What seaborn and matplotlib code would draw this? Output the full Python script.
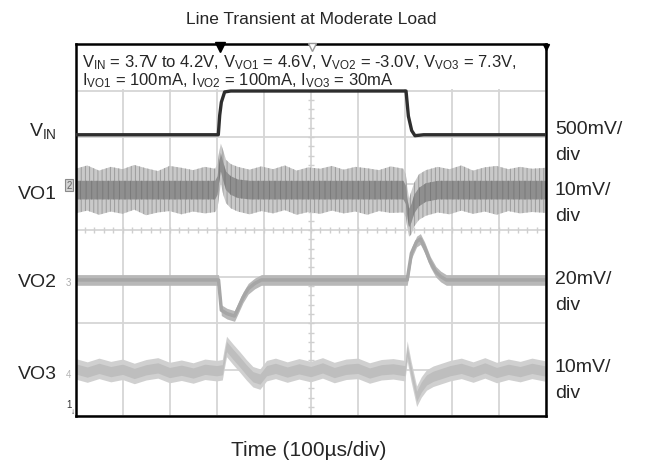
import numpy as np
import seaborn as sns
import matplotlib
matplotlib.use("Agg")
from matplotlib import pyplot as plt
from matplotlib.patches import Rectangle

# ---- scope data (time in us, 100us/div) ----
# VIN in volts, 500mV/div
vin_t = [0, 303.5, 306.5, 310, 317, 330, 702.5, 707.5, 714.5, 721.5, 740, 1000]
vin_v = [3.70, 3.70, 3.91, 4.05, 4.16, 4.17, 4.17, 3.90, 3.745, 3.69, 3.70, 3.70]

# VO1 deviation in mV, 10mV/div (centre and noise envelope)
vo1_t = [0, 25, 50, 75, 100, 125, 150, 175, 200, 225, 250, 275, 297,
         302, 305, 309, 314, 320, 330, 345,
         370, 395, 420, 445, 470, 495, 520, 545, 570, 595, 620, 645, 670, 697,
         702, 705, 709, 714, 720, 730, 745,
         770, 795, 820, 845, 870, 895, 920, 945, 970, 1000]
vo1_mid = [0] * 13 + [1.0, 3.5, 6.0, 4.0, 2.0, 1.0, 0.3] + [0] * 14 + \
          [-1.0, -3.5, -6.0, -5.0, -3.0, -1.5, -0.5] + [0] * 10
vo1_hi = [4.6, 5.3, 4.2, 5.0, 4.5, 5.4, 4.7, 4.1, 5.2, 4.8, 4.3, 5.0, 4.6,
          5.8, 8.0, 10.0, 8.5, 6.5, 5.6, 5.0,
          4.4, 5.1, 4.5, 5.3, 4.2, 4.9, 4.6, 5.2, 4.4, 5.0, 4.7, 4.3, 5.1, 4.6,
          3.4, 0.8, -1.8, -0.2, 1.6, 3.4, 4.3,
          5.0, 4.5, 5.3, 4.2, 4.9, 5.2, 4.5, 5.0, 4.6, 4.8]
vo1_lo = [-5.0, -4.4, -5.3, -4.6, -5.1, -4.2, -5.4, -4.8, -4.5, -5.2, -4.6, -5.0, -4.7,
          -3.8, -1.5, 1.5, -1.0, -2.8, -3.9, -4.6,
          -5.2, -4.5, -5.0, -4.3, -5.3, -4.7, -5.1, -4.4, -5.0, -4.6, -5.3, -4.5, -4.9, -4.8,
          -5.8, -8.0, -10.0, -9.5, -7.8, -6.4, -5.5,
          -4.8, -5.2, -4.4, -5.1, -4.6, -5.3, -4.5, -5.0, -4.7, -4.9]

# VO2 deviation in mV, 20mV/div
vo2_t = [0, 100, 200, 300, 304, 310, 322, 338, 346, 356, 367, 381, 395,
         500, 600, 700, 705, 714, 725, 733, 742, 754, 766, 776, 788, 900, 1000]
vo2_mid = [0, 0, 0, 0, 0, -13.0, -14.5, -15.5, -12.0, -7.5, -3.8, -1.5, 0,
           0, 0, 0, 0, 11.5, 16.5, 17.6, 14.0, 7.8, 3.5, 1.5, 0, 0, 0]

# VO3 deviation in mV, 10mV/div
vo3_t = [0, 25, 50, 75, 100, 125, 150, 175, 200, 225, 250, 275, 300,
         312, 316, 321, 335, 349, 363, 377, 392, 406,
         425, 450, 475, 500, 525, 550, 575, 600, 625, 650, 675, 700,
         705, 713, 725, 735, 746, 760, 775, 796,
         820, 845, 870, 895, 920, 945, 970, 1000]
vo3_mid = [0.4, -0.3, 0.5, -0.2, 0.3, -0.6, 0.2, 0.6, -0.4, 0.1, -0.5, 0.3, 0.0,
           0.2, 2.5, 5.2, 3.5, 1.9, 0.2, -1.3, -1.8, 0.0,
           0.5, -0.3, 0.4, -0.2, 0.6, -0.4, 0.3, 0.5, -0.5, 0.2, 0.4, 0.0,
           4.2, 0.0, -5.5, -3.5, -2.0, -1.2, -0.7, 0.0,
           0.5, -0.3, 0.6, -0.4, 0.3, -0.2, 0.5, -0.1]

left_labels = [r"$\mathrm{V}_{\mathrm{IN}}$", "VO1", "VO2", "VO3"]
right_labels = ["500mV/", "10mV/", "20mV/", "10mV/"]
title = "Line Transient at Moderate Load"
xlabel = "Time (100µs/div)"
cond_1 = (r"$\mathrm{V}_{\mathrm{IN}}$ = 3.7V to 4.2V, $\mathrm{V}_{\mathrm{VO1}}$ = 4.6V, "
          r"$\mathrm{V}_{\mathrm{VO2}}$ = -3.0V, $\mathrm{V}_{\mathrm{VO3}}$ = 7.3V,")
cond_2 = (r"$\mathrm{I}_{\mathrm{VO1}}$ = 100mA, $\mathrm{I}_{\mathrm{VO2}}$ = 100mA, "
          r"$\mathrm{I}_{\mathrm{VO3}}$ = 30mA")

# screen position (div) of each channel's reference and scale
vin_pos, vin_scale = 6.05, 0.5
vo1_pos, vo1_scale = 4.86, 10.0
vo2_pos, vo2_scale = 2.93, 20.0
vo3_pos, vo3_scale = 0.98, 10.0


def to_div(vals, pos, scale, offset=0.0):
    return pos + (np.asarray(vals, dtype=float) - offset) / scale


sns.set_theme(style="white")
plt.rcParams['font.family'] = ['Liberation Sans', 'DejaVu Sans']
plt.rcParams['mathtext.fontset'] = 'custom'
plt.rcParams['mathtext.rm'] = 'Liberation Sans'
plt.rcParams['mathtext.it'] = 'Liberation Sans:italic'
plt.rcParams['hatch.linewidth'] = 0.7

W, H = 646, 464
L, R, T, B = 75.5, 546.0, 45.0, 417.3
fig = plt.figure(figsize=(W / 100, H / 100), dpi=100)
ax = fig.add_axes([L / W, (H - B) / H, (R - L) / W, (B - T) / H])
ax.set_xlim(0, 1000)
ax.set_ylim(0, 8)
ax.set_xticks(np.arange(0, 1001, 100))
ax.set_yticks(np.arange(0, 9, 1))
ax.tick_params(length=0, labelbottom=False, labelleft=False)
ax.grid(True, color='#d6d6d6', lw=1.3)
ax.set_axisbelow(True)
for s in ax.spines.values():
    s.set_color('black')
    s.set_linewidth(1.8)

# centre graticule ticks
ax.hlines(np.arange(0, 8.01, 0.2), 500 - 6, 500 + 6, color='#cfcfcf', lw=1.0, zorder=1)
ax.vlines(np.arange(0, 1000.1, 20), 4 - 0.06, 4 + 0.06, color='#cfcfcf', lw=1.0, zorder=1)

# white box behind the test conditions
ax.add_patch(Rectangle((3, 7.04), 994, 0.93, facecolor='white', edgecolor='none', zorder=1.5))

# VO3
y3 = to_div(vo3_mid, vo3_pos, vo3_scale)
ax.fill_between(vo3_t, y3 - 2.2 / vo3_scale, y3 + 2.2 / vo3_scale, color='#d0d0d0', lw=0, zorder=2)
ax.fill_between(vo3_t, y3 - 1.1 / vo3_scale, y3 + 1.1 / vo3_scale, color='#bebebe', lw=0, zorder=2.1)

# VO2
y2 = to_div(vo2_mid, vo2_pos, vo2_scale)
ax.fill_between(vo2_t, y2 - 2.3 / vo2_scale, y2 + 2.3 / vo2_scale, color='#b8b8b8', lw=0, zorder=2)
sns.lineplot(x=vo2_t, y=y2, ax=ax, color='#a6a6a6', lw=2.5, zorder=2.1)

# VO1: noisy band drawn with vertical hatching
y1 = to_div(vo1_mid, vo1_pos, vo1_scale)
ax.fill_between(vo1_t, to_div(vo1_lo, vo1_pos, vo1_scale), to_div(vo1_hi, vo1_pos, vo1_scale),
                facecolor='#c9c9c9', edgecolor='#9c9c9c', hatch='||||', lw=0, zorder=2)
ax.fill_between(vo1_t, y1 - 2.0 / vo1_scale, y1 + 2.0 / vo1_scale,
                facecolor='#8f8f8f', edgecolor='#7a7a7a', hatch='|||', lw=0, zorder=2.1)

# VIN
sns.lineplot(x=vin_t, y=to_div(vin_v, vin_pos, vin_scale, 3.70), ax=ax, color='#2e2e2e', lw=2.4, zorder=3)

# markers on the frame
ax.plot([307], [7.93], marker='v', ms=7, color='black', clip_on=False, zorder=5)
ax.plot([502], [7.94], marker='v', ms=6, mfc='white', mec='#999999', clip_on=False, zorder=5)
ax.plot([1000], [7.93], marker='v', ms=5, color='black', clip_on=False, zorder=5)


def px(x, y):
    return (x - L) / (R - L) * 1000, (B - y) / (B - T) * 8


# channel markers
ax.text(*px(69, 186), "2", fontsize=7, color='#666666', ha='center', va='center',
        bbox=dict(boxstyle='square,pad=0.15', fc='#d2d2d2', ec='#8a8a8a', lw=0.8), clip_on=False)
ax.text(*px(68.5, 283), "3", fontsize=7, color='#aaaaaa', ha='center', va='center', clip_on=False)
ax.text(*px(68.5, 375), "4", fontsize=7, color='#b5b5b5', ha='center', va='center', clip_on=False)
ax.text(*px(69, 405), "1", fontsize=7, color='#333333', ha='center', va='center', clip_on=False)
ax.text(*px(73, 413), "↓", fontsize=6, color='#333333', ha='center', va='center', clip_on=False)

# test conditions
ax.text(*px(81.5, 67), cond_1, fontsize=12, ha='left', va='baseline', zorder=4)
ax.text(*px(81.5, 85.5), cond_2, fontsize=12, ha='left', va='baseline', zorder=4)

# channel names and scales
left_base = [136, 199, 287, 379]
for lab, yb in zip(left_labels, left_base):
    ax.text(*px(57, yb), lab, fontsize=14, ha='right', va='baseline', clip_on=False)
right_base = [134, 195, 284, 372]
for lab, yb in zip(right_labels, right_base):
    ax.text(*px(555, yb), lab, fontsize=14, ha='left', va='baseline', clip_on=False)
    ax.text(*px(555, yb + 26), "div", fontsize=14, ha='left', va='baseline', clip_on=False)

fig.text(311 / W, 1 - 24 / H, title, fontsize=12.5, ha='center', va='baseline')
fig.text(308.5 / W, 1 - 456 / H, xlabel, fontsize=15, ha='center', va='baseline')

fig.savefig("out.png", dpi=100)
